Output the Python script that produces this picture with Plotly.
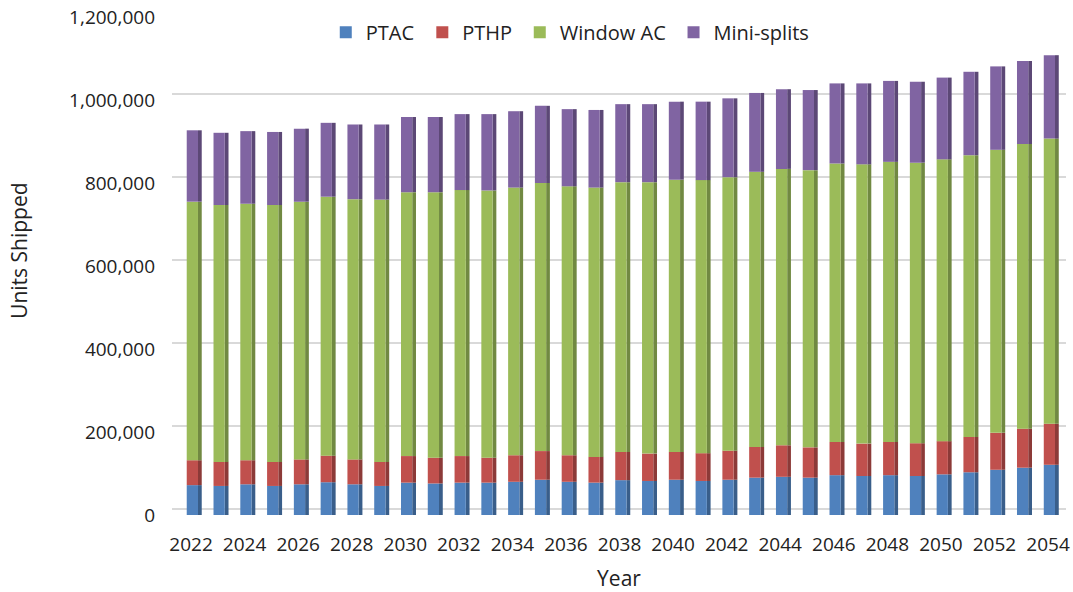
import plotly.graph_objects as go
import numpy as np

years = list(range(2022, 2055))
ptac = [72, 70, 74, 70, 74, 79, 74, 70, 78, 76, 78,
        78, 80, 85, 80, 78, 84, 82, 85, 82, 85, 90,
        92, 90, 96, 94, 96, 94, 98, 103, 109, 114, 121]
ptac_pthp_top = [132, 128, 132, 128, 134, 143, 134, 128, 142, 138, 142,
                 138, 144, 154, 144, 140, 152, 148, 152, 149, 155, 164,
                 168, 163, 176, 172, 176, 173, 178, 188, 198, 208, 220]
window_top = [755, 747, 750, 747, 755, 767, 761, 760, 778, 778, 783,
              782, 789, 800, 792, 789, 802, 802, 808, 807, 814, 827,
              834, 831, 847, 845, 851, 849, 857, 867, 880, 894, 907]
total_top = [927, 921, 925, 923, 931, 945, 941, 941, 959, 959, 966,
             966, 973, 986, 978, 976, 990, 990, 996, 996, 1004, 1017,
             1026, 1024, 1040, 1040, 1046, 1044, 1054, 1068, 1081, 1094, 1108]

PTAC = [v * 1000 for v in ptac]
PTHP = [(a - b) * 1000 for a, b in zip(ptac_pthp_top, ptac)]
WINDOW = [(a - b) * 1000 for a, b in zip(window_top, ptac_pthp_top)]
MINI = [(a - b) * 1000 for a, b in zip(total_top, window_top)]

series = [("PTAC", PTAC, "#4F81BD", "#395E8A", "legend"),
          ("PTHP", PTHP, "#C0504D", "#8C3A38", "legend2"),
          ("Window AC", WINDOW, "#9BBB59", "#718942", "legend3"),
          ("Mini-splits", MINI, "#8064A2", "#5C4876", "legend4")]

fig = go.Figure()
# invisible trace so the (back-wall) grid axis is drawn
fig.add_trace(go.Scatter(x=years, y=[v * 1000 for v in total_top], mode="lines",
                         line=dict(width=0), opacity=0, showlegend=False,
                         hoverinfo="skip", yaxis="y"))
base = np.zeros(len(years))
for name, vals, col, dark, lg in series:
    v = np.array(vals, dtype=float)
    fig.add_trace(go.Bar(x=years, y=v, base=base, width=0.14, offset=0.26,
                         marker=dict(color=dark, line=dict(width=0)),
                         showlegend=False, hoverinfo="skip", yaxis="y2"))
    fig.add_trace(go.Bar(x=years, y=v, base=base, width=0.42, offset=-0.16,
                         name=name, legend=lg, yaxis="y2",
                         marker=dict(color=col, line=dict(width=0))))
    base = base + v

TOP = 1214458   # value range shown by the bar axis
SHIFT = 14458   # back-wall gridline shift (3D look)

leg_common = dict(orientation="h", yanchor="middle", y=0.958, xanchor="left",
                  font=dict(size=20, color="#222222"), bgcolor="rgba(255,255,255,0)")

fig.update_layout(
    barmode="overlay",
    width=1073, height=592,
    margin=dict(l=172, r=7, t=11, b=77, autoexpand=False),
    plot_bgcolor="white", paper_bgcolor="white",
    font=dict(family="Open Sans", size=19, color="#222222"),
    legend=dict(x=0.172, **leg_common),
    legend2=dict(x=0.280, **leg_common),
    legend3=dict(x=0.389, **leg_common),
    legend4=dict(x=0.561, **leg_common),
    xaxis=dict(range=[2021.29, 2054.67], tickvals=years[::2], showgrid=False,
               zeroline=False, showline=False, ticks="", ticklabelstandoff=16,
               ticklabeloverflow="allow", automargin=False,
               title=dict(text="Year", font=dict(size=21), standoff=18)),
    yaxis=dict(range=[-SHIFT, TOP - SHIFT], dtick=200000, showgrid=True,
               gridcolor="#D9D9D9", gridwidth=2, zeroline=False, showline=False,
               showticklabels=False, ticks="", automargin=False),
    yaxis2=dict(range=[0, TOP], overlaying="y", side="left",
                tickvals=[0, 200000, 400000, 600000, 800000, 1000000, 1200000],
                tickformat=",", showgrid=False, zeroline=False, showline=False,
                ticks="", ticklabelstandoff=16, ticklabeloverflow="allow",
                automargin=False),
    annotations=[dict(text="Units Shipped", xref="paper", yref="paper",
                      x=(19 - 172) / 894, y=0.524, xanchor="center", yanchor="middle",
                      textangle=-90, showarrow=False,
                      font=dict(size=21, color="#222222"))],
)

fig.write_html("out.html", config={"displayModeBar": False},
               post_script="document.body.style.margin='0px';"
                           "document.body.style.overflow='hidden';")
